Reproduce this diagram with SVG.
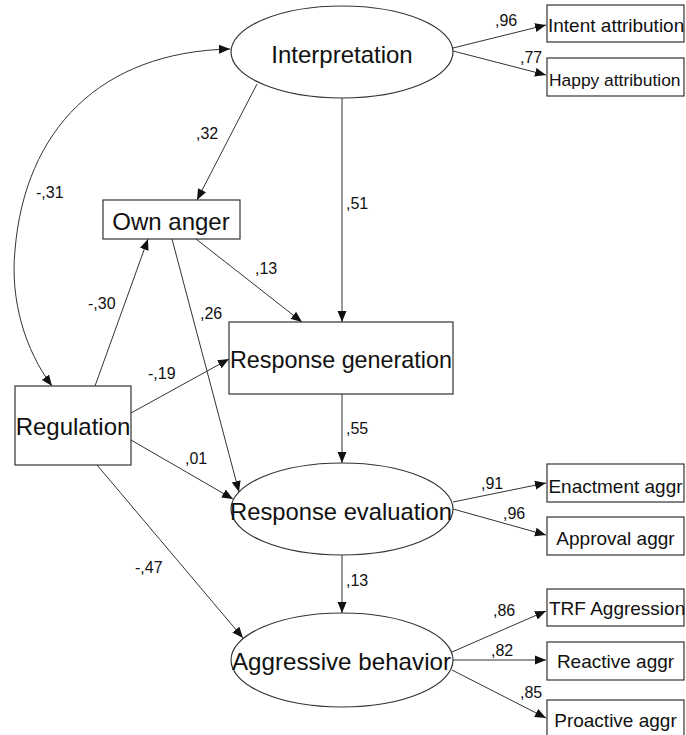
<svg xmlns="http://www.w3.org/2000/svg" width="686" height="735" viewBox="0 0 686 735">
<style>
.node{fill:#fff;stroke:#333;stroke-width:1.2}
.big{font-family:"Liberation Sans",Arial,sans-serif;font-size:24px;fill:#111}
.small{font-family:"Liberation Sans",Arial,sans-serif;font-size:19px;fill:#111}
.lbl{font-family:"Liberation Sans",Arial,sans-serif;font-size:16px;fill:#111}
.edge{fill:none;stroke:#333;stroke-width:1}
</style>
<defs>
<marker id="ah" markerUnits="userSpaceOnUse" markerWidth="12" markerHeight="10" refX="11" refY="5" orient="auto-start-reverse">
<path d="M0,0.5 L11,5 L0,9.5 Z" fill="#111"/>
</marker>
</defs>
<rect width="686" height="735" fill="#fff"/>
<g id="connectors">
<path class="edge" d="M230,49 C100,52 25,130 15,250 C10,300 25,350 52,386" marker-start="url(#ah)" marker-end="url(#ah)"/>
<line class="edge" x1="453" y1="48" x2="546" y2="25" marker-end="url(#ah)"/>
<line class="edge" x1="453" y1="51" x2="546" y2="75" marker-end="url(#ah)"/>
<line class="edge" x1="257" y1="84" x2="197" y2="200" marker-end="url(#ah)"/>
<line class="edge" x1="342" y1="98" x2="342" y2="322" marker-end="url(#ah)"/>
<line class="edge" x1="95" y1="386" x2="148" y2="239" marker-end="url(#ah)"/>
<line class="edge" x1="196" y1="239" x2="302" y2="322" marker-end="url(#ah)"/>
<line class="edge" x1="172" y1="239" x2="239" y2="492" marker-end="url(#ah)"/>
<line class="edge" x1="131" y1="413" x2="229" y2="359" marker-end="url(#ah)"/>
<line class="edge" x1="131" y1="440" x2="233" y2="499" marker-end="url(#ah)"/>
<line class="edge" x1="97" y1="465" x2="243" y2="638" marker-end="url(#ah)"/>
<line class="edge" x1="342" y1="394" x2="342" y2="463" marker-end="url(#ah)"/>
<line class="edge" x1="342" y1="555" x2="342" y2="613" marker-end="url(#ah)"/>
<line class="edge" x1="453" y1="502" x2="546" y2="483" marker-end="url(#ah)"/>
<line class="edge" x1="453" y1="509" x2="546" y2="535" marker-end="url(#ah)"/>
<line class="edge" x1="452" y1="652" x2="546" y2="611" marker-end="url(#ah)"/>
<line class="edge" x1="453" y1="660" x2="546" y2="660" marker-end="url(#ah)"/>
<line class="edge" x1="452" y1="670" x2="546" y2="718" marker-end="url(#ah)"/>
<text class="lbl" x="36" y="198">-,31</text>
<text class="lbl" x="196" y="139">,32</text>
<text class="lbl" x="346" y="209">,51</text>
<text class="lbl" x="495" y="26">,96</text>
<text class="lbl" x="520" y="63">,77</text>
<text class="lbl" x="88" y="309">-,30</text>
<text class="lbl" x="255" y="274">,13</text>
<text class="lbl" x="200" y="319">,26</text>
<text class="lbl" x="148" y="379">-,19</text>
<text class="lbl" x="185" y="464">,01</text>
<text class="lbl" x="135" y="573">-,47</text>
<text class="lbl" x="346" y="434">,55</text>
<text class="lbl" x="346" y="586">,13</text>
<text class="lbl" x="481" y="489">,91</text>
<text class="lbl" x="503" y="519">,96</text>
<text class="lbl" x="493" y="616">,86</text>
<text class="lbl" x="491" y="656">,82</text>
<text class="lbl" x="520" y="698">,85</text>
</g>
<g id="interpretation">
<ellipse class="node" cx="342" cy="52" rx="111" ry="46"/>
<text class="big" x="342" y="63" text-anchor="middle">Interpretation</text>
</g>
<g id="intent-attribution">
<rect class="node" x="547" y="5" width="137" height="37"/>
<text class="small" x="548" y="32">Intent attribution</text>
</g>
<g id="happy-attribution">
<rect class="node" x="547" y="58" width="137" height="38"/>
<text class="small" x="549" y="86" style="font-size:17.4px">Happy attribution</text>
</g>
<g id="own-anger">
<rect class="node" x="103" y="200" width="137" height="39"/>
<text class="big" x="171" y="230" text-anchor="middle">Own anger</text>
</g>
<g id="regulation">
<rect class="node" x="15" y="386" width="116" height="79"/>
<text class="big" x="73" y="435" text-anchor="middle">Regulation</text>
</g>
<g id="response-generation">
<rect class="node" x="229" y="322" width="224" height="72"/>
<text class="big" x="230" y="368" textLength="222" lengthAdjust="spacingAndGlyphs">Response generation</text>
</g>
<g id="response-evaluation">
<ellipse class="node" cx="342" cy="509" rx="111" ry="46"/>
<text class="big" x="230" y="520" textLength="222" lengthAdjust="spacingAndGlyphs">Response evaluation</text>
</g>
<g id="enactment-aggr">
<rect class="node" x="547" y="464" width="137" height="38"/>
<text class="small" x="615.5" y="493" text-anchor="middle">Enactment aggr</text>
</g>
<g id="approval-aggr">
<rect class="node" x="547" y="517" width="137" height="38"/>
<text class="small" x="615.5" y="545" text-anchor="middle">Approval aggr</text>
</g>
<g id="aggressive-behavior">
<ellipse class="node" cx="342" cy="660" rx="111" ry="47"/>
<text class="big" x="232" y="670" textLength="219" lengthAdjust="spacingAndGlyphs">Aggressive behavior</text>
</g>
<g id="trf-aggression">
<rect class="node" x="547" y="589" width="137" height="37"/>
<text class="small" x="549" y="615">TRF Aggression</text>
</g>
<g id="reactive-aggr">
<rect class="node" x="547" y="642" width="137" height="38"/>
<text class="small" x="615.5" y="668" text-anchor="middle">Reactive aggr</text>
</g>
<g id="proactive-aggr">
<rect class="node" x="547" y="700" width="137" height="40"/>
<text class="small" x="615.5" y="727" text-anchor="middle">Proactive aggr</text>
</g>
</svg>
